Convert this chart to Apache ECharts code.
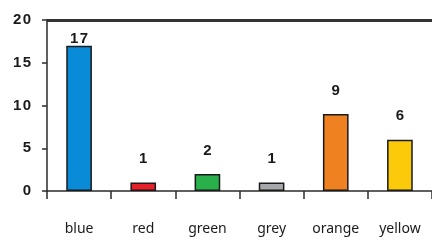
<!DOCTYPE html>
<html>
<head>
<meta charset="utf-8">
<script src="https://cdn.jsdelivr.net/npm/echarts@6/dist/echarts.min.js"></script>
<style>
    html, body { margin: 0; padding: 0; background: #fff; }
    #chart { width: 432px; height: 244px; }
</style>
</head>
<body>
<div id="chart"></div>
<script>
// 类别和数值
const categories = ['blue', 'red', 'green', 'grey', 'orange', 'yellow']
const counts = [17, 1, 2, 1, 9, 6]
const barColors = ['#0a8bd8', '#e8202a', '#29b04b', '#a6a8ab', '#f08121', '#fbcb0b']
const yTicks = [0, 5, 10, 15, 20]

const chartInstance = echarts.init(document.getElementById('chart'))

// 数字之间加细空格，模仿原图的字距
const spaced = (v) => String(v).split('').join('\u200a')
const numFont = '"Liberation Sans Narrow", "Liberation Sans", sans-serif'

const barData = counts.map((v, i) => {
    const item = {
        value: v,
        itemStyle: { color: barColors[i] }
    }
    // 17 离顶部太近，标签压在柱子上
    if (v === 17) {
        item.label = { distance: -1 }
    }
    return item
})

// 只显示最上面那条分隔线，作为顶部边线
const splitColors = yTicks.map((t, i) => (i === yTicks.length - 1 ? '#333333' : 'rgba(0,0,0,0)'))

const option = {
    animation: false,
    grid: {
        left: 47,
        right: 0,
        top: 20,
        bottom: 53
    },
    xAxis: {
        type: 'category',
        data: categories,
        axisLine: { lineStyle: { color: '#2b2b2b', width: 1.5 } },
        axisTick: { show: true, length: 8, lineStyle: { color: '#2b2b2b', width: 1.5 } },
        axisLabel: {
            interval: 0,
            color: '#1a1a1a',
            fontFamily: 'Noto Sans',
            fontSize: 14,
            margin: 31
        }
    },
    yAxis: {
        type: 'value',
        min: yTicks[0],
        max: yTicks[yTicks.length - 1],
        interval: 5,
        splitLine: {
            show: true,
            lineStyle: { color: splitColors, width: 3 }
        },
        axisLine: { show: true, lineStyle: { color: '#2b2b2b', width: 1.5 } },
        axisTick: { show: true, length: 5, lineStyle: { color: '#2b2b2b', width: 1.5 } },
        axisLabel: {
            color: '#1a1a1a',
            fontFamily: numFont,
            fontWeight: 'bold',
            fontSize: 15,
            margin: 16,
            formatter: (v) => spaced(v)
        }
    },
    series: [
        {
            type: 'bar',
            data: barData,
            barWidth: '40%',
            itemStyle: {
                borderColor: '#1a1a1a',
                borderWidth: 1.5
            },
            label: {
                show: true,
                position: 'top',
                distance: 16,
                color: '#1a1a1a',
                fontFamily: numFont,
                fontWeight: 'bold',
                fontSize: 15,
                formatter: (p) => spaced(p.value)
            }
        }
    ]
}
chartInstance.setOption(option)
</script>
</body>
</html>
